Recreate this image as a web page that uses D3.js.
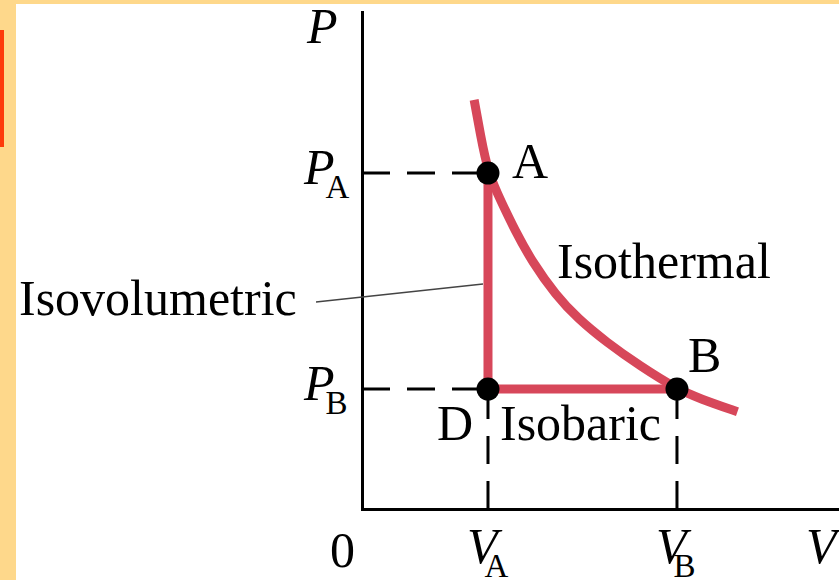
<!DOCTYPE html>
<html lang="en">
<head>
    <meta charset="utf-8">
    <title>PV diagram: isothermal, isovolumetric and isobaric paths</title>
    <script type="text/javascript" src="https://d3js.org/d3.v7.min.js"></script>
    <style type="text/css">
        body { margin: 0; background: #fed88b; }
        svg { display: block; font-family: "Liberation Serif", "DejaVu Serif", serif; }
    </style>
</head>
<body>
<script type="text/javascript">

    // isotherm (V in units of V_A, P in units of P_B)
    var curveV = [0.89, 0.94, 1.00, 1.11, 1.21, 1.35, 1.54, 1.71, 1.94, 2.21, 2.50, 2.68, 2.98];
    var curveP = [3.41, 3.12, 2.80, 2.55, 2.33, 2.06, 1.78, 1.59, 1.39, 1.19, 1.00, 0.92, 0.81];

    // states on the diagram
    var stateNames = ["A", "D", "B"];
    var stateV = [1.0, 1.0, 2.5];
    var stateP = [2.8, 1.0, 1.0];

    // axis marks
    var yTickValues = [2.8, 1.0];
    var yTickSubs = ["A", "B"];
    var xTickValues = [1.0, 2.5];
    var xTickSubs = ["A", "B"];

    var width = 839, height = 580;
    var red = "#d7475a";

    var svg = d3.select("body")
        .append("svg")
        .attr("width", width)
        .attr("height", height);

    // frame: orange border, red tab, white panel
    svg.append("rect").attr("width", width).attr("height", height).attr("fill", "#fed88b");
    svg.append("rect").attr("x", 0).attr("y", 30).attr("width", 4).attr("height", 117).attr("fill", "#fe3a0a");
    svg.append("rect").attr("x", 16).attr("y", 4).attr("width", width - 16).attr("height", height - 4).attr("fill", "#fff");

    var x = d3.scaleLinear().domain([0, 3.786]).range([362, 839]);
    var y = d3.scaleLinear().domain([0, 4.142]).range([509, 12]);

    // axes (no ticks, just the lines)
    svg.append("g")
        .attr("transform", "translate(" + x(0) + ",0)")
        .call(d3.axisLeft(y).tickValues([]).tickSizeOuter(0))
        .select(".domain").attr("stroke-width", 3).attr("stroke-linecap", "square");
    svg.append("g")
        .attr("transform", "translate(0," + y(0) + ")")
        .call(d3.axisBottom(x).tickValues([]).tickSizeOuter(0))
        .select(".domain").attr("stroke-width", 3).attr("stroke-linecap", "square");

    // dashed guides
    var dash = "28,17";
    yTickValues.forEach(function(p) {
        svg.append("line")
            .attr("x1", x(0)).attr("x2", x(1.0))
            .attr("y1", y(p)).attr("y2", y(p))
            .attr("stroke", "#000").attr("stroke-width", 3)
            .attr("stroke-dasharray", dash);
    });
    xTickValues.forEach(function(v) {
        svg.append("line")
            .attr("x1", x(v)).attr("x2", x(v))
            .attr("y1", y(0)).attr("y2", y(1.0))
            .attr("stroke", "#000").attr("stroke-width", 3)
            .attr("stroke-dasharray", dash);
    });

    // isovolumetric A -> D and isobaric D -> B
    var line = d3.line()
        .x(function(d) { return x(d[0]); })
        .y(function(d) { return y(d[1]); });

    svg.append("path")
        .attr("d", line([[stateV[0], stateP[0]], [stateV[1], stateP[1]], [stateV[2], stateP[2]]]))
        .attr("fill", "none")
        .attr("stroke", red)
        .attr("stroke-width", 9)
        .attr("stroke-linejoin", "miter");

    // isotherm
    var curveData = curveV.map(function(v, i) { return [v, curveP[i]]; });
    svg.append("path")
        .attr("d", line.curve(d3.curveBasis)(curveData))
        .attr("fill", "none")
        .attr("stroke", red)
        .attr("stroke-width", 9);

    // state points
    svg.selectAll(".state")
        .data(stateNames)
        .enter()
        .append("circle")
        .attr("class", "state")
        .attr("cx", function(d, i) { return x(stateV[i]); })
        .attr("cy", function(d, i) { return y(stateP[i]); })
        .attr("r", 11.5)
        .attr("fill", "#000");

    // state labels
    var labelOffset = { A: [24, 5], D: [-51, 51], B: [11, -17] };
    svg.selectAll(".stateLabel")
        .data(stateNames)
        .enter()
        .append("text")
        .attr("class", "stateLabel")
        .attr("x", function(d, i) { return x(stateV[i]) + labelOffset[d][0]; })
        .attr("y", function(d, i) { return y(stateP[i]) + labelOffset[d][1]; })
        .attr("font-size", 50)
        .text(function(d) { return d; });

    // axis labels
    function subLabel(xPos, yPos, base, sub, subDx) {
        var t = svg.append("text")
            .attr("x", xPos).attr("y", yPos)
            .attr("font-size", 50);
        t.append("tspan").attr("font-style", "italic").text(base);
        if (sub) {
            t.append("tspan")
                .attr("font-size", 33)
                .attr("dx", subDx)
                .attr("dy", 14)
                .text(sub);
        }
    }

    subLabel(307, 43, "P", null, 0);
    yTickValues.forEach(function(p, i) {
        subLabel(304, y(p) + 11, "P", yTickSubs[i], -9);
    });
    xTickValues.forEach(function(v, i) {
        subLabel(x(v) - 21, 563, "V", xTickSubs[i], -13);
    });
    subLabel(806, 563, "V", null, 0);

    svg.append("text")
        .attr("x", 330).attr("y", 567)
        .attr("font-size", 50)
        .text("0");

    // process names
    svg.append("text")
        .attr("x", 557).attr("y", 278)
        .attr("font-size", 50)
        .text("Isothermal");

    svg.append("text")
        .attr("x", 500).attr("y", 440)
        .attr("font-size", 50)
        .text("Isobaric");

    svg.append("text")
        .attr("x", 19).attr("y", 315)
        .attr("font-size", 50)
        .text("Isovolumetric");

    svg.append("line")
        .attr("x1", 316).attr("y1", 302)
        .attr("x2", x(1.0) - 5).attr("y2", 284)
        .attr("stroke", "#444")
        .attr("stroke-width", 1.3);

</script>
</body>
</html>
